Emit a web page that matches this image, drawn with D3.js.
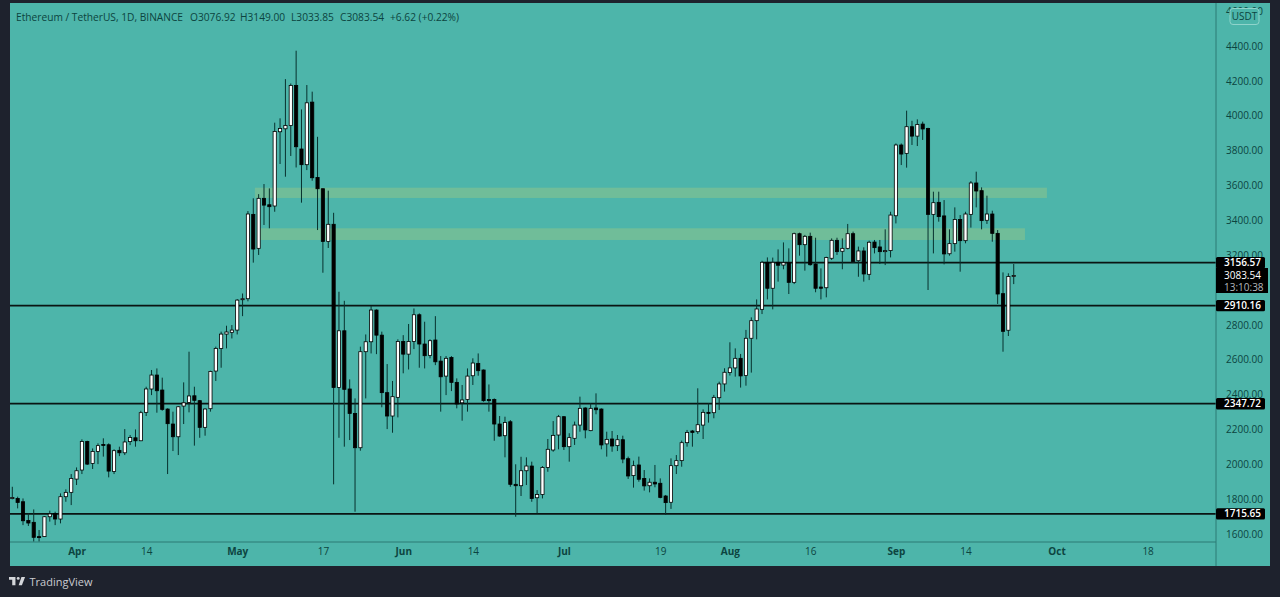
<!DOCTYPE html>
<html>
<head>
<meta charset="utf-8">
<script src="https://cdn.jsdelivr.net/npm/d3@7"></script>
<style>
html, body { margin: 0; padding: 0; background: #1e222d; overflow: hidden; }
svg { display: block; }
text { font-family: "Open Sans", "Noto Sans", sans-serif; }
</style>
</head>
<body>
<div id="chart"></div>
<script>
// daily candles, one per day starting at firstDay
var firstDay = new Date(Date.UTC(2021, 2, 20));

var opens = [
    1803,1804,1785,1678,1667,1585,1585,1699,1718,1686,
    1814,1839,1915,1967,2131,2005,2074,2114,2112,1959,
    2080,2066,2130,2152,2135,2298,2432,2512,2426,2317,
    2231,2158,2334,2355,2393,2365,2212,2319,2535,2665,
    2747,2757,2770,2945,2950,3434,3239,3526,3489,3482,
    3908,3925,3944,4174,3809,3719,4078,3646,3581,3279,
    3377,2441,2766,2432,2292,2095,2646,2703,2885,2741,
    2411,2277,2384,2705,2632,2705,2858,2690,2625,2713,
    2592,2506,2613,2470,2353,2372,2508,2579,2541,2372,
    2372,2231,2164,2244,1885,1877,1963,1990,1808,1827,
    1982,2082,2168,2273,2101,2149,2225,2323,2193,2323,
    2317,2117,2145,2107,2141,2032,1935,1996,1919,1877,
    1897,1891,1818,1782,1992,2021,2124,2191,2187,2225,
    2298,2296,2382,2461,2526,2553,2608,2509,2723,2824,
    2889,3159,3010,3159,3143,3157,3044,3323,3260,3308,
    3149,3017,3013,3182,3285,3222,3239,3323,3168,3224,
    3090,3275,3247,3220,3226,3426,3832,3784,3937,3883,
    3952,3927,3434,3503,3425,3208,3266,3405,3283,3434,
    3614,3570,3400,3436,3325,2979,2769,3076.92
];
var highs = [
    1871,1814,1804,1718,1741,1623,1703,1734,1728,1833,
    1856,1944,1982,2143,2135,2091,2120,2149,2120,2086,
    2101,2202,2168,2200,2307,2445,2541,2550,2497,2321,
    2302,2334,2470,2646,2445,2369,2321,2537,2675,2761,
    2795,2799,2948,2980,3453,3526,3550,3608,3583,3960,
    3985,4210,4185,4373,4036,4176,4138,3879,3583,3570,
    3443,2990,2938,2487,2378,2675,2745,2908,2889,2761,
    2575,2478,2717,2741,2805,2894,2866,2818,2717,2850,
    2621,2621,2621,2493,2455,2550,2608,2636,2544,2458,
    2378,2277,2273,2254,2000,2043,2040,2015,1852,1990,
    2145,2248,2283,2277,2178,2245,2388,2327,2350,2407,
    2321,2187,2191,2168,2164,2044,2021,2044,1967,1919,
    1996,1919,1824,2034,2053,2136,2197,2197,2436,2315,
    2350,2398,2474,2551,2700,2665,2633,2771,2843,2946,
    3168,3187,3186,3233,3273,3239,3329,3329,3316,3329,
    3300,3124,3191,3296,3300,3296,3379,3335,3249,3245,
    3283,3287,3287,3348,3449,3841,3841,4029,3971,3979,
    3966,3931,3564,3564,3516,3348,3474,3430,3449,3625,
    3679,3589,3541,3455,3344,3101,3096,3149
];
var lows = [
    1799,1747,1651,1646,1556,1556,1583,1671,1651,1661,
    1785,1766,1881,1944,1996,1973,2001,2044,1925,1944,
    2047,2053,2110,2101,2133,2277,2397,2296,2307,1944,
    2076,2053,2231,2298,2107,2152,2164,2302,2478,2554,
    2665,2722,2745,2850,2935,3157,3201,3373,3354,3449,
    3723,3650,3769,3703,3501,3688,3627,3344,3099,3241,
    1885,2152,2101,2139,1728,2078,2378,2636,2632,2327,
    2202,2181,2269,2522,2544,2661,2554,2550,2608,2569,
    2302,2397,2420,2321,2250,2302,2455,2508,2359,2302,
    2135,2158,2040,1871,1699,1818,1881,1785,1718,1804,
    1957,2072,2086,2082,2015,2111,2187,2149,2190,2287,
    2086,2044,2072,2076,2006,1916,1866,1900,1849,1839,
    1868,1805,1709,1744,1944,1986,2101,2101,2174,2145,
    2239,2264,2312,2417,2509,2503,2440,2451,2526,2717,
    2862,2946,2889,3048,3119,2977,3034,3197,3111,3140,
    2987,2946,2958,3172,3201,3119,3233,3157,3076,3048,
    3057,3210,3149,3143,3187,3382,3717,3702,3832,3826,
    3861,3000,3210,3392,3147,3197,3220,3105,3268,3358,
    3474,3348,3379,3277,2920,2646,2736,3033.85
];
var closes = [
    1810,1781,1676,1663,1581,1581,1699,1715,1686,1814,
    1839,1919,1963,2131,2001,2074,2107,2108,1961,2078,
    2066,2128,2154,2135,2296,2432,2512,2422,2315,2233,
    2158,2330,2353,2392,2367,2212,2317,2533,2665,2747,
    2759,2770,2942,2950,3436,3235,3526,3487,3478,3910,
    3927,3944,4174,3822,3719,4074,3644,3581,3279,3377,
    2441,2766,2430,2292,2095,2646,2703,2885,2741,2411,
    2277,2388,2705,2632,2705,2858,2690,2623,2709,2588,
    2502,2608,2470,2346,2369,2506,2581,2537,2365,2365,
    2231,2162,2240,1885,1877,1963,1990,1804,1827,1982,
    2086,2166,2273,2101,2153,2225,2321,2197,2321,2313,
    2111,2143,2105,2141,2030,1933,1992,1914,1876,1897,
    1887,1810,1780,1992,2021,2124,2183,2183,2227,2298,
    2293,2384,2461,2528,2553,2608,2507,2723,2824,2891,
    3159,3010,3159,3142,3157,3044,3323,3260,3308,3145,
    3010,3010,3186,3285,3220,3239,3323,3164,3224,3092,
    3274,3243,3220,3226,3430,3832,3780,3937,3883,3950,
    3924,3434,3501,3421,3207,3266,3405,3283,3436,3614,
    3568,3398,3436,3325,2977,2763,3077,3083.54
];

// support / resistance levels and where they start
var levelPrices = [3156.57, 2910.16, 2347.72, 1715.65];
var levelStarts = [140, -2, -2, -2];

// shaded zones
var zoneTops = [3587, 3354];
var zoneBottoms = [3528, 3287];
var zoneStarts = [45.3, 46.3];
var zoneEnds = [193.2, 189.1];

// axes (3000 sits behind the last price box, so it is not listed)
var priceTicks = [1600,1800,2000,2200,2400,2600,2800,3200,3400,3600,3800,4000,4200,4400,4600];
var dateTickDays = [12,25,42,58,73,86,103,121,134,149,165,178,195,212];
var dateTickLabels = ["Apr","14","May","17","Jun","14","Jul","19","Aug","16","Sep","14","Oct","18"];
var monthLabels = ["Apr","May","Jun","Jul","Aug","Sep","Oct"];

var titleParts = ["Ethereum / TetherUS, 1D, BINANCE","O3076.92","H3149.00","L3033.85","C3083.54","+6.62 (+0.22%)"];
var titleStarts = [16, 190, 240, 291, 340, 390];

var svgWidth = 1280;
var svgHeight = 597;

// plot frame
var frame = { left:10, right:1270, top:3, bottom:566, axisX:1216, axisY:542 };

var teal = "#4db5aa";
var dark = "#1e222d";
var axisLine = "#2c7a74";
var axisText = "#0c4440";

var svg = d3.select("#chart")
    .append("svg")
    .attr("width", svgWidth)
    .attr("height", svgHeight);

svg.append("rect")
    .attr("width", svgWidth)
    .attr("height", svgHeight)
    .attr("fill", dark);

svg.append("rect")
    .attr("x", frame.left)
    .attr("y", frame.top)
    .attr("width", frame.right - frame.left)
    .attr("height", frame.bottom - frame.top)
    .attr("fill", teal);

function dayDate(i) {
    return new Date(firstDay.getTime() + i * 86400000);
}

var xScale = d3.scaleUtc()
    .domain([dayDate(0), dayDate(212)])
    .range([12.3, 1147.6]);

var yScale = d3.scaleLinear()
    .domain([1600, 4400])
    .range([534, 46]);

// zones
var zoneGroup = svg.append("g");
zoneTops.forEach(function(top, i) {
    zoneGroup.append("rect")
        .attr("x", xScale(dayDate(zoneStarts[i])))
        .attr("y", yScale(top))
        .attr("width", xScale(dayDate(zoneEnds[i])) - xScale(dayDate(zoneStarts[i])))
        .attr("height", yScale(zoneBottoms[i]) - yScale(top))
        .attr("fill", "#70bd99");
});

// levels sit under the candles
var levelGroup = svg.append("g");
levelPrices.forEach(function(price, i) {
    levelGroup.append("line")
        .attr("x1", levelStarts[i] < 0 ? frame.left : xScale(dayDate(levelStarts[i])))
        .attr("x2", frame.axisX)
        .attr("y1", yScale(price))
        .attr("y2", yScale(price))
        .attr("stroke", "#0a1412")
        .attr("stroke-width", 1.7);
});

// candles
var candleGroup = svg.append("g");
var candles = candleGroup.selectAll("g")
    .data(d3.range(opens.length))
    .enter()
    .append("g")
    .attr("transform", function(i) { return "translate(" + xScale(dayDate(i)) + ",0)"; });

candles.append("line")
    .attr("y1", function(i) { return yScale(highs[i]); })
    .attr("y2", function(i) { return yScale(lows[i]); })
    .attr("stroke", "#07312e")
    .attr("stroke-width", 1);

candles.append("rect")
    .attr("x", -1.6)
    .attr("width", 3.2)
    .attr("y", function(i) { return yScale(Math.max(opens[i], closes[i])); })
    .attr("height", function(i) { return Math.max(1, Math.abs(yScale(opens[i]) - yScale(closes[i]))); })
    .attr("fill", function(i) { return closes[i] >= opens[i] ? "#fff" : "#000"; })
    .attr("stroke", "#000")
    .attr("stroke-width", 0.8);

// axis frame lines
svg.append("line")
    .attr("x1", frame.axisX).attr("x2", frame.axisX)
    .attr("y1", frame.top).attr("y2", frame.bottom)
    .attr("stroke", axisLine);
svg.append("line")
    .attr("x1", frame.left).attr("x2", frame.axisX)
    .attr("y1", frame.axisY).attr("y2", frame.axisY)
    .attr("stroke", axisLine);

// bottom axis
var bottomAxis = d3.axisBottom(xScale)
    .tickValues(dateTickDays.map(dayDate))
    .tickSize(0)
    .tickFormat(function(d, i) { return dateTickLabels[i]; });

var xAxis = svg.append("g")
    .attr("transform", "translate(0," + frame.axisY + ")")
    .call(bottomAxis);
xAxis.select(".domain").remove();
xAxis.selectAll("text")
    .attr("y", 6)
    .attr("dy", "0.71em")
    .attr("fill", axisText)
    .attr("font-size", 10)
    .attr("font-weight", function(d, i) { return monthLabels.indexOf(dateTickLabels[i]) >= 0 ? 700 : 400; });

// right axis
var rightAxis = d3.axisRight(yScale)
    .tickValues(priceTicks)
    .tickSize(0)
    .tickFormat(d3.format(".2f"));

var yAxis = svg.append("g")
    .attr("transform", "translate(" + frame.axisX + ",0)")
    .call(rightAxis);
yAxis.select(".domain").remove();
yAxis.selectAll("text")
    .attr("x", 10)
    .attr("fill", axisText)
    .attr("font-size", 10);

// currency badge
svg.append("rect")
    .attr("x", 1230).attr("y", 8.5)
    .attr("width", 29).attr("height", 16).attr("rx", 3)
    .attr("fill", teal)
    .attr("stroke", "#8fd4cb");
svg.append("text")
    .attr("x", 1244.5).attr("y", 20)
    .attr("text-anchor", "middle")
    .attr("fill", axisText)
    .attr("font-size", 10)
    .text("USDT");

// price labels on the axis
levelPrices.forEach(function(price) {
    svg.append("rect")
        .attr("x", frame.axisX).attr("y", yScale(price) - 5.7)
        .attr("width", 49).attr("height", 11.4).attr("rx", 1.5)
        .attr("fill", "#000");
    svg.append("text")
        .attr("x", frame.axisX + 8).attr("y", yScale(price) + 3.6)
        .attr("fill", "#fff")
        .attr("font-size", 10)
        .attr("font-weight", 600)
        .text(price.toFixed(2));
});

svg.append("rect")
    .attr("x", frame.axisX).attr("y", 268)
    .attr("width", 52).attr("height", 25)
    .attr("fill", "#000");
svg.append("text")
    .attr("x", frame.axisX + 8).attr("y", 279)
    .attr("fill", "#fff")
    .attr("font-size", 10)
    .text(closes[closes.length - 1].toFixed(2));
svg.append("text")
    .attr("x", frame.axisX + 8).attr("y", 290.5)
    .attr("fill", "#b5b8bd")
    .attr("font-size", 10)
    .text("13:10:38");

// header
var header = svg.append("g");
titleParts.forEach(function(part, i) {
    header.append("text")
        .attr("x", titleStarts[i])
        .attr("y", 20.5)
        .attr("fill", axisText)
        .attr("font-size", 10.2)
        .text(part);
});

// TradingView mark
var logo = svg.append("g")
    .attr("transform", "translate(9,577) scale(0.46)")
    .attr("fill", "#d4d6da");
logo.append("path").attr("d", "M14 0H0v6h7v12h7V0Z");
logo.append("circle").attr("cx", 20).attr("cy", 3).attr("r", 3.2);
logo.append("path").attr("d", "M28 18h-7l6-18h8l-7 18Z");
svg.append("text")
    .attr("x", 29.5).attr("y", 586)
    .attr("fill", "#c9cbd0")
    .attr("font-size", 11)
    .text("TradingView");
</script>
</body>
</html>
